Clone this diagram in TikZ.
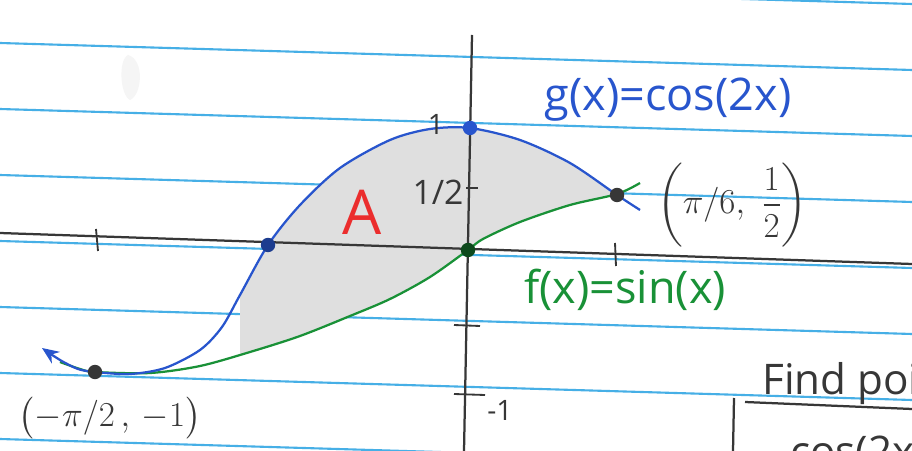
\documentclass[tikz,border=0pt]{standalone}
\usepackage{amsmath}
\usepackage{fontspec}
\setmainfont{Open Sans}
\usetikzlibrary{arrows.meta}
\definecolor{paper}{RGB}{70,175,230}
\definecolor{penblue}{RGB}{40,85,205}
\definecolor{pengreen}{RGB}{25,145,55}
\definecolor{pencil}{RGB}{55,55,55}
\definecolor{penred}{RGB}{235,45,45}
\begin{document}
\begin{tikzpicture}[x=0.025cm,y=-0.025cm,
  rule/.style={paper,line width=1.5pt},
  axisline/.style={pencil,line width=1.6pt},
  tickmark/.style={pencil,line width=1.3pt},
  curveblue/.style={penblue,line width=1.6pt},
  curvegreen/.style={pengreen,line width=1.6pt},
  dot/.style={circle,fill=#1,inner sep=0pt,minimum size=0.36cm},
  lbl/.style={inner sep=0pt,text=pencil},
  bigtext/.style={font=\fontsize{32}{38}\selectfont},
  smalltext/.style={font=\fontsize{20}{24}\selectfont}]
\useasboundingbox (0,0) rectangle (912,451);
\clip (0,0) rectangle (912,451);
\fill[white] (0,0) rectangle (912,451);
% ruled paper lines
\foreach \y in {-23,43,109,175,241,307,373,439}
  \draw[rule] (0,\y) -- (912,\y+27);
% faint smudge
\fill[gray!8] (128,55) .. controls (145,60) and (142,95) .. (130,100) .. controls (120,95) and (118,60) .. (128,55);
% shaded area A
\fill[gray!25] plot[smooth] coordinates {(240,295) (268,245) (300,205) (340,168) (390,140) (430,129) (470,128) (520,140) (570,163) (617,195)}
  -- plot[smooth] coordinates {(617,194) (570,205) (520,222) (483,239) (468,250) (430,277) (390,299) (350,316) (300,336) (240,354)} -- cycle;
% axes
\coordinate (xl) at (0,233);
\coordinate (xr) at (912,264);
\coordinate (yt) at (472,35);
\coordinate (yb) at (464,451);
\draw[axisline] (xl) -- (xr);
\draw[axisline] (yt) -- (yb);
% ticks
\draw[tickmark] (96,229) -- (98,251);
\draw[tickmark] (615,243) -- (616,266);
\draw[tickmark] (466,188) -- (478,188);
\draw[tickmark] (454,325) -- (480,326);
\draw[tickmark] (454,394) -- (485,395);
% curves
\draw[curvegreen] plot[smooth] coordinates {(60,362) (80,369) (95,372) (150,373) (200,366) (250,352) (300,336) (350,316) (390,299) (430,277) (468,250) (483,239) (520,222) (570,205) (617,194) (640,183)};
\draw[curveblue,{Stealth[length=12pt,width=10pt]}-] plot[smooth] coordinates {(42,348) (60,360) (78,369) (95,372) (130,374) (165,368) (200,350) (222,327) (240,295) (268,245) (300,205) (340,168) (390,140) (430,129) (470,128) (520,140) (570,163) (617,195) (640,210)};
% points
\node[dot=pencil] (pmin) at (95,372) {};
\node[dot=penblue!70!black] (pz) at (268,245) {};
\node[dot=penblue] (ptop) at (470,128) {};
\node[dot=pengreen!50!black] (po) at (468,250) {};
\node[dot=pencil] (pint) at (617,195) {};
% labels
\node[lbl,text=penblue,bigtext] (gl) at (668,100) {g(x)=cos(2x)};
\node[lbl,text=pengreen,bigtext] (fl) at (625,290) {f(x)=sin(x)};
\node[lbl,font=\fontsize{30}{36}\selectfont] (il) at (732,205) {$\left(\pi/6,\ \dfrac{1}{2}\right)$};
\node[lbl,font=\fontsize{30}{36}\selectfont] (ml) at (110,418) {$\bigl(-\pi/2\,,\,-1\bigr)$};
\node[lbl,smalltext] (one) at (436,124) {1};
\node[lbl,font=\fontsize{24}{28}\selectfont] (half) at (438,192) {1/2};
\node[lbl,smalltext] (mone) at (500,410) {-1};
\node[lbl,text=penred,font=\fontsize{44}{50}\selectfont] (A) at (362,212) {A};
\node[lbl,font=\fontsize{30}{36}\selectfont,anchor=base west] (find) at (762,394) {Find poi};
\coordinate (ul) at (745,402);
\coordinate (ur) at (912,409);
\draw[axisline] (ul) -- (ur);
\coordinate (vt) at (734,398);
\coordinate (vb) at (733,451);
\draw[axisline] (vt) -- (vb);
\node[lbl,font=\fontsize{30}{36}\selectfont,anchor=base west] (cosl) at (790,466) {cos(2x};
\end{tikzpicture}
\end{document}
